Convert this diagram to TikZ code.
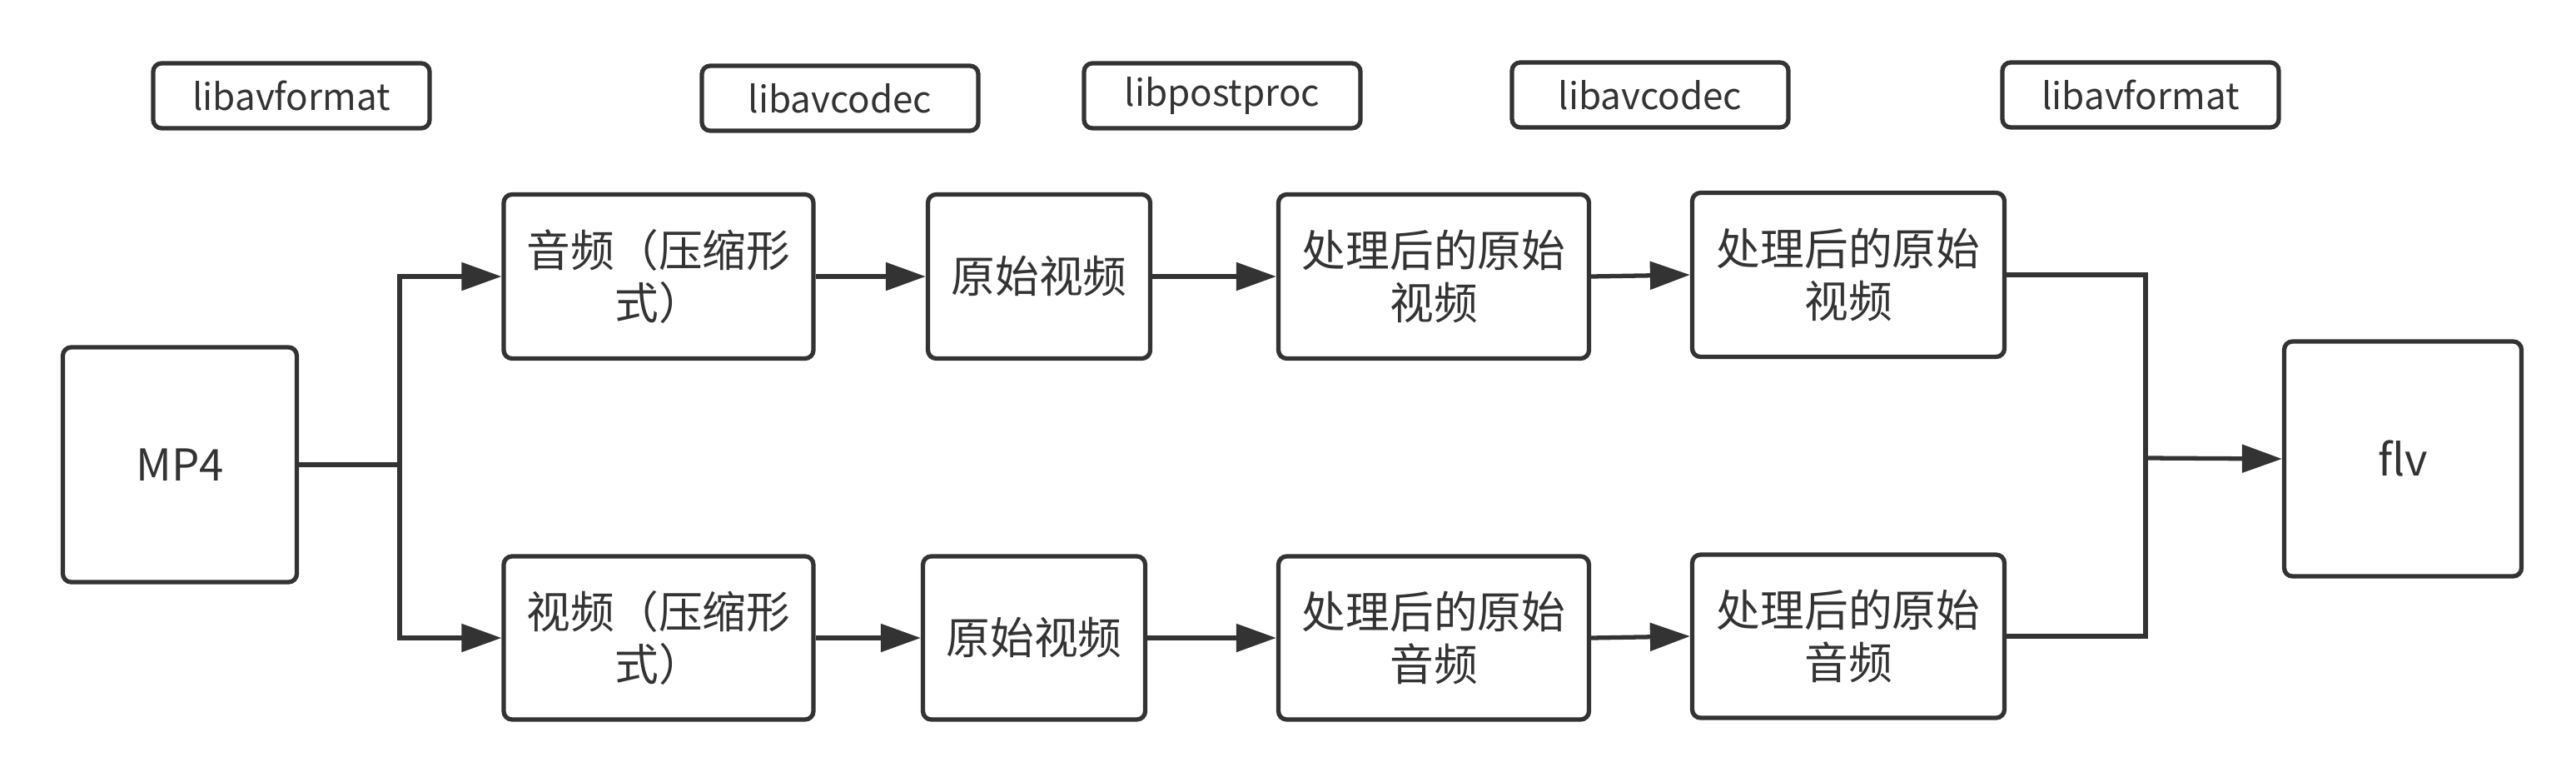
\documentclass[tikz,border=0pt]{standalone}
\usepackage{fontspec}
\setmainfont{Noto Sans CJK SC}
\usetikzlibrary{arrows.meta,positioning}
\definecolor{linegray}{HTML}{333333}

\begin{document}
\begin{tikzpicture}[
  box/.style={draw=linegray, line width=1.5pt, rounded corners=0.1cm, align=center, text=linegray, font=\fontsize{15}{18}\selectfont, inner sep=0pt},
  lib/.style={draw=linegray, line width=1.5pt, rounded corners=0.1cm, minimum width=3.32cm, minimum height=0.78cm, text=linegray, font=\fontsize{12.5}{15}\selectfont, inner sep=0pt},
  arr/.style={draw=linegray, line width=1.5pt, -{Triangle[length=0.48cm,width=0.33cm]}},
  ln/.style={draw=linegray, line width=1.5pt}
]
  \useasboundingbox (0,0) rectangle (30.94,-9.38);

  \node[lib] (fmtin) at (3.50,-1.15) {libavformat};
  \node[lib] (decin) at (10.09,-1.18) {libavcodec};
  \node[lib] (post) at (14.68,-1.15) {libpostproc};
  \node[lib] (encout) at (19.82,-1.14) {libavcodec};
  \node[lib] (fmtout) at (25.71,-1.14) {libavformat};

  \node[box, minimum width=2.81cm, minimum height=2.82cm] (mp4) at (2.16,-5.58) {MP4};
  \node[box, minimum width=2.85cm, minimum height=2.82cm] (flv) at (28.86,-5.51) {flv};

  \node[box, minimum width=3.72cm, minimum height=1.97cm] (a1) at (7.91,-3.32) {音频（压缩形\\式）};
  \node[box, minimum width=2.67cm, minimum height=1.97cm] (a2) at (12.48,-3.32) {原始视频};
  \node[box, minimum width=3.73cm, minimum height=1.97cm] (a3) at (17.22,-3.32) {处理后的原始\\视频};
  \node[box, minimum width=3.75cm, minimum height=1.97cm] (a4) at (22.20,-3.30) {处理后的原始\\视频};

  \node[box, minimum width=3.72cm, minimum height=1.96cm] (v1) at (7.91,-7.66) {视频（压缩形\\式）};
  \node[box, minimum width=2.67cm, minimum height=1.96cm] (v2) at (12.42,-7.66) {原始视频};
  \node[box, minimum width=3.73cm, minimum height=1.96cm] (v3) at (17.22,-7.66) {处理后的原始\\音频};
  \node[box, minimum width=3.75cm, minimum height=1.96cm] (v4) at (22.20,-7.64) {处理后的原始\\音频};

  \coordinate (split) at (4.80,-5.58);
  \coordinate (merge) at (25.77,-5.50);

  \draw[ln] (mp4.east) -- (split);
  \draw[arr] (split) |- (a1.west);
  \draw[arr] (split) |- (v1.west);
  \draw[arr] (a1.east) -- (a2.west);
  \draw[arr] (a2.east) -- (a3.west);
  \draw[arr] (a3.east) -- (a4.west);
  \draw[arr] (v1.east) -- (v2.west);
  \draw[arr] (v2.east) -- (v3.west);
  \draw[arr] (v3.east) -- (v4.west);
  \draw[ln] (a4.east) -| (merge);
  \draw[ln] (v4.east) -| (merge);
  \draw[arr] (merge) -- (flv.west);
\end{tikzpicture}
\end{document}
